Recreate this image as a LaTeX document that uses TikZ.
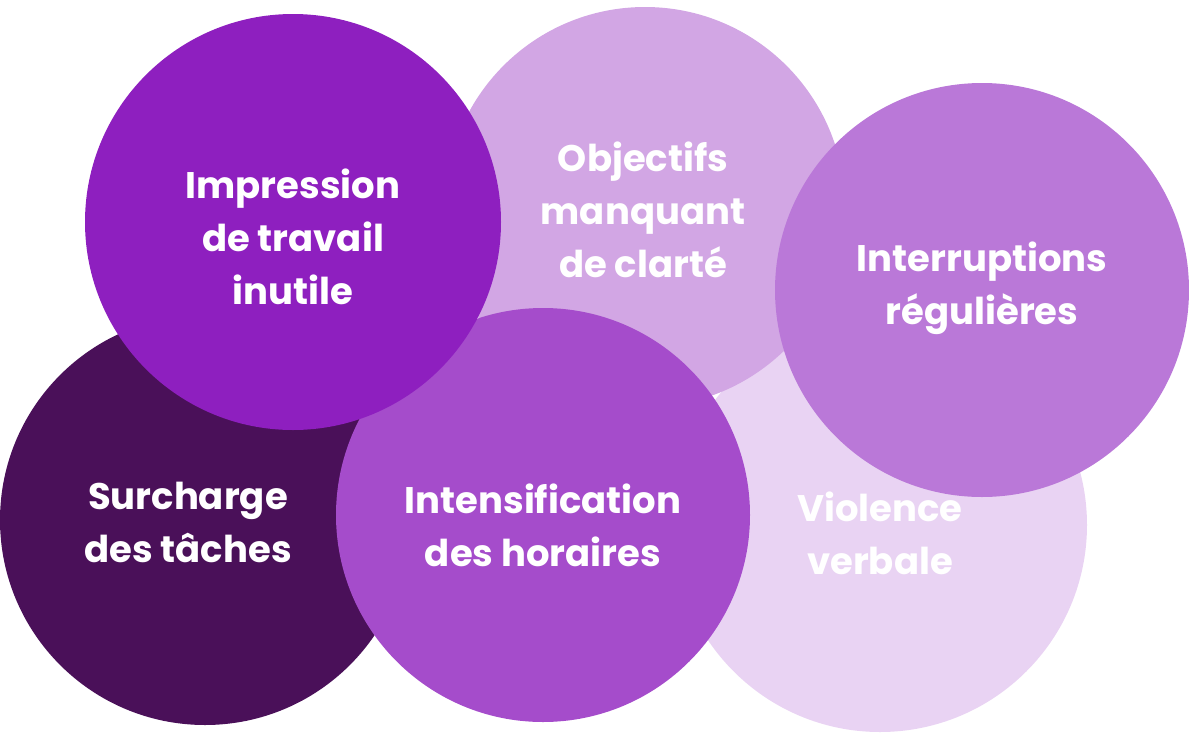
\documentclass[tikz,border=0pt]{standalone}
\usepackage{fontspec}
\setmainfont{Poppins}
\begin{document}
\begin{tikzpicture}[x=1pt,y=-1pt,
 bub/.style={circle,minimum size=#1,inner sep=0pt,draw=none},
 lab/.style={text=white,align=center,font=\fontsize{37}{53}\selectfont\bfseries}]
\definecolor{c1}{HTML}{E9D3F3}\definecolor{c2}{HTML}{D2A6E4}\definecolor{c3}{HTML}{BA78D8}
\definecolor{c4}{HTML}{4A1059}\definecolor{c5}{HTML}{A54CCB}\definecolor{c6}{HTML}{8E1FBF}
\useasboundingbox (0,0) rectangle (1189,734);
\node[bub=414pt,fill=c1] (v) at (880,525) {};
\node[bub=400pt,fill=c2] (o) at (645,207) {};
\node[bub=414pt,fill=c3] (r) at (982,290) {};
\node[bub=410pt,fill=c4] (s) at (205,520) {};
\node[bub=414pt,fill=c5] (n) at (543,515) {};
\node[bub=416pt,fill=c6] (m) at (293,222) {};
\node[lab] (tv) at (880,533) {Violence\\verbale};
\node[lab] (to) at (643,210) {Objectifs\\manquant\\de clarté};
\node[lab] (tr) at (982,288) {Interruptions\\régulières};
\node[lab] (ts) at (188,522) {Surcharge\\des tâches};
\node[lab] (tn) at (543,525) {Intensification\\des horaires};
\node[lab] (tm) at (293,237) {Impression\\de travail\\inutile};
\end{tikzpicture}
\end{document}
